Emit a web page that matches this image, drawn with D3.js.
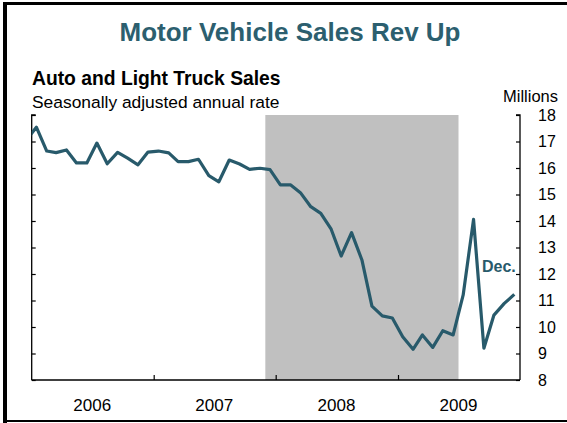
<!DOCTYPE html>
<html><head><meta charset="utf-8">
<script src="https://cdn.jsdelivr.net/npm/d3@7"></script>
<style>
html,body{margin:0;padding:0;background:#fff;}
svg{display:block;font-family:"Liberation Sans",Arial,Helvetica,sans-serif;}
</style></head>
<body><svg id="c" width="567" height="423"></svg>
<script>
// Monthly SAAR, Dec 2005 .. Dec 2009 (millions)
const months = ["2005-12",
 "2006-01","2006-02","2006-03","2006-04","2006-05","2006-06","2006-07","2006-08","2006-09","2006-10","2006-11","2006-12",
 "2007-01","2007-02","2007-03","2007-04","2007-05","2007-06","2007-07","2007-08","2007-09","2007-10","2007-11","2007-12",
 "2008-01","2008-02","2008-03","2008-04","2008-05","2008-06","2008-07","2008-08","2008-09","2008-10","2008-11","2008-12",
 "2009-01","2009-02","2009-03","2009-04","2009-05","2009-06","2009-07","2009-08","2009-09","2009-10","2009-11","2009-12"];
const sales = [17.03,
 17.54,16.64,16.58,16.68,16.19,16.19,16.94,16.16,16.59,16.37,16.12,16.60,
 16.64,16.57,16.24,16.24,16.33,15.71,15.48,16.30,16.15,15.95,15.99,15.94,
 15.36,15.36,15.07,14.54,14.29,13.69,12.68,13.56,12.53,10.79,10.42,10.34,
 9.63,9.16,9.70,9.23,9.86,9.70,11.21,14.06,9.20,10.45,10.89,11.23];
const yTicks = [8,9,10,11,12,13,14,15,16,17,18];
const yearLabels = ["2006","2007","2008","2009"];
const recession = ["2007-12-01","2009-07-01"];

const title = "Motor Vehicle Sales Rev Up";
const subtitle = "Auto and Light Truck Sales";
const note = "Seasonally adjusted annual rate";
const unit = "Millions";
const endLabel = "Dec.";

const svg = d3.select("#c");
const W = 567, H = 423;
const L = 31.7, R = 520, T = 115, B = 380;
const teal = "#285a6b";

const parse = d3.timeParse("%Y-%m-%d");
const x = d3.scaleTime().domain([new Date(2006,0,1), new Date(2010,0,1)]).range([L, R]);
const y = d3.scaleLinear().domain([8,18]).range([B, T]);

// frame
svg.append("rect").attr("x",0).attr("y",0).attr("width",W).attr("height",H).attr("fill","#fff");
svg.append("rect").attr("x",3).attr("y",2).attr("width",564).attr("height",3).attr("fill","#000");
svg.append("rect").attr("x",3).attr("y",2).attr("width",4).attr("height",421).attr("fill","#000");
svg.append("rect").attr("x",3).attr("y",420).attr("width",564).attr("height",2).attr("fill","#000");

// recession shading
svg.append("rect")
  .attr("x", x(parse(recession[0]))).attr("y", T)
  .attr("width", x(parse(recession[1])) - x(parse(recession[0])))
  .attr("height", B - T).attr("fill", "#c0c0c0");

// axes
const yl = svg.append("g").attr("transform",`translate(${L},0)`)
  .call(d3.axisRight(y).tickValues(yTicks).tickSize(4).tickFormat(""));
const yr = svg.append("g").attr("transform",`translate(${R},0)`)
  .call(d3.axisLeft(y).tickValues(yTicks).tickSize(4).tickFormat(""));
const xb = svg.append("g").attr("transform",`translate(0,${B})`)
  .call(d3.axisTop(x).tickValues(yearLabels.slice(1).map(s=>new Date(+s,0,1))).tickSize(5).tickFormat("").tickSizeOuter(0));
[yl,yr,xb].forEach(g=>{
  g.selectAll("path").attr("stroke","#000").attr("stroke-width",1.3);
  g.selectAll("line").attr("stroke","#000").attr("stroke-width",1.2);
});
yl.select("path").attr("d",`M4,${T}H0V${B}`);
yr.select("path").attr("d",`M-4,${T}H0V${B}`);
xb.select("path").attr("d",`M${L},0H${R}`);

// y tick labels
svg.append("g").selectAll("text").data(yTicks).join("text")
  .attr("x", 538).attr("y", d=>y(d)).attr("dy","0.36em")
  .attr("font-size",16).attr("fill","#000").text(d=>d);

// year labels
svg.append("g").selectAll("text").data(yearLabels).join("text")
  .attr("x", d=>x(new Date(+d,6,1))).attr("y", 411)
  .attr("text-anchor","middle").attr("font-size",17).attr("fill","#000").text(d=>d);

// line
svg.append("clipPath").attr("id","clip").append("rect")
  .attr("x",L).attr("y",T-10).attr("width",R-L).attr("height",B-T+20);
const pts = months.map((m,i)=>({d: d3.timeParse("%Y-%m")(m), v: sales[i]}));
pts.forEach(p=>p.d = new Date(p.d.getFullYear(), p.d.getMonth(), 15));
svg.append("path").datum(pts)
  .attr("clip-path","url(#clip)")
  .attr("fill","none").attr("stroke",teal).attr("stroke-width",3.2).attr("stroke-linejoin","round")
  .attr("d", d3.line().x(p=>x(p.d)).y(p=>y(p.v)));

// texts
svg.append("text").attr("x",290).attr("y",41).attr("text-anchor","middle")
  .attr("font-size",26).attr("font-weight","bold").attr("fill","#2c5f6f").text(title);
svg.append("text").attr("x",32).attr("y",85)
  .attr("font-size",19.3).attr("font-weight","bold").attr("fill","#000").text(subtitle);
svg.append("text").attr("x",32).attr("y",108)
  .attr("font-size",17.4).attr("fill","#000").text(note);
svg.append("text").attr("x",558).attr("y",102).attr("text-anchor","end")
  .attr("font-size",16.5).attr("fill","#000").text(unit);
svg.append("text").attr("x",482).attr("y",272)
  .attr("font-size",16).attr("font-weight","bold").attr("fill",teal).text(endLabel);
</script></body></html>
